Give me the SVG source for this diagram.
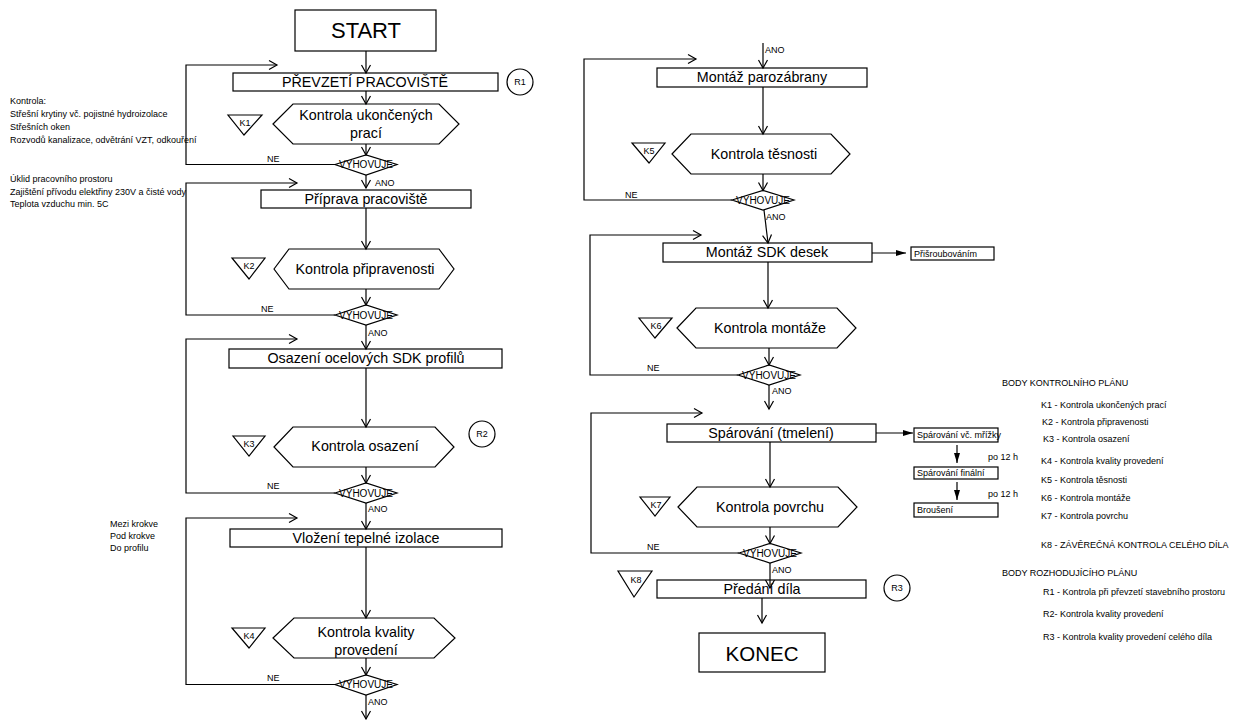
<svg xmlns="http://www.w3.org/2000/svg" width="1246" height="720" viewBox="0 0 1246 720">
  <style>
    text { font-family: "Liberation Sans", Arial, sans-serif; fill: #000; }
    .box { fill: #fff; stroke: #000; stroke-width: 1.2; }
    .ln { fill: none; stroke: #000; stroke-width: 1.2; }
    .lbl { font-size: 14.3px; text-anchor: middle; }
    .big { font-size: 22px; text-anchor: middle; }
    .dec { font-size: 10px; text-anchor: middle; }
    .sm { font-size: 9px; }
    .smc { font-size: 9px; text-anchor: middle; }
    .tiny { font-size: 9px; }
  </style>
  <defs>
    <marker id="open" markerUnits="userSpaceOnUse" markerWidth="12" markerHeight="12" viewBox="0 0 12 12" refX="10" refY="6" orient="auto">
      <path d="M2,1.5 L10,6 L2,10.5" fill="none" stroke="#000" stroke-width="1.2"/>
    </marker>
    <marker id="solid" markerUnits="userSpaceOnUse" markerWidth="12" markerHeight="8" viewBox="0 0 12 8" refX="11" refY="4" orient="auto">
      <path d="M1,1 L11,4 L1,7 z" fill="#000"/>
    </marker>
  </defs>
  <rect width="1246" height="720" fill="#fff"/>

  <!-- left column -->
  <g id="start"><rect class="box" x="295" y="10" width="141" height="41"/><text class="big" x="366" y="38">START</text></g>
  <g id="prevzeti"><rect class="box" x="233" y="73" width="265" height="18"/><text class="lbl" x="365" y="87">PŘEVZETÍ PRACOVIŠTĚ</text></g>
  <g id="r1"><circle class="box" cx="520" cy="82" r="13"/><text class="smc" x="520" y="85">R1</text></g>
  <g id="k1"><polygon class="box" points="273,124 293,104 439,104 459,124 439,144 293,144"/><text class="lbl" x="366" y="120">Kontrola ukončených</text><text class="lbl" x="366" y="138">prací</text></g>
  <g id="k1-mark"><polygon class="box" points="228,115 262,115 244,135"/><text class="smc" x="245" y="126">K1</text></g>
  <g id="d1"><polygon class="box" points="335,164.5 366,155 397,164.5 366,175"/><text class="dec" x="366" y="168">VYHOVUJE</text></g>

  <g id="priprava"><rect class="box" x="261" y="190" width="210" height="18"/><text class="lbl" x="366" y="204">Příprava pracoviště</text></g>
  <g id="k2"><polygon class="box" points="274,269 289,249 439,249 454,269 439,289 289,289"/><text class="lbl" x="365" y="274">Kontrola připravenosti</text></g>
  <g id="k2-mark"><polygon class="box" points="232,258 265,258 249,279"/><text class="smc" x="249" y="269">K2</text></g>
  <g id="d2"><polygon class="box" points="335,315 366,305 397,315 366,325"/><text class="dec" x="366" y="318.5">VYHOVUJE</text></g>

  <g id="osazeni"><rect class="box" x="229" y="349" width="273" height="19"/><text class="lbl" x="366" y="363">Osazení ocelových SDK profilů</text></g>
  <g id="k3"><polygon class="box" points="274,447 293,427 435,427 454,447 435,467 293,467"/><text class="lbl" x="365" y="451">Kontrola osazení</text></g>
  <g id="k3-mark"><polygon class="box" points="233,436 265,436 249,456"/><text class="smc" x="249" y="447">K3</text></g>
  <g id="r2"><circle class="box" cx="482" cy="434" r="13"/><text class="smc" x="482" y="437">R2</text></g>
  <g id="d3"><polygon class="box" points="335,493 366,483 397,493 366,503"/><text class="dec" x="366" y="496.5">VYHOVUJE</text></g>

  <g id="vlozeni"><rect class="box" x="230" y="529" width="272" height="18"/><text class="lbl" x="366" y="543">Vložení tepelné izolace</text></g>
  <g id="k4"><polygon class="box" points="273,638 294,618 434,618 455,638 434,658 294,658"/><text class="lbl" x="366" y="637">Kontrola kvality</text><text class="lbl" x="366" y="655">provedení</text></g>
  <g id="k4-mark"><polygon class="box" points="232,628 265,628 249,648"/><text class="smc" x="249" y="639">K4</text></g>
  <g id="d4"><polygon class="box" points="335,684.5 366,675 397,684.5 366,695"/><text class="dec" x="366" y="688">VYHOVUJE</text></g>

  <!-- right column -->
  <g id="montaz-paro"><rect class="box" x="657" y="68" width="210" height="19"/><text class="lbl" x="762" y="82">Montáž parozábrany</text></g>
  <g id="k5"><polygon class="box" points="672,154 691,134 831,134 850,154 831,174 691,174"/><text class="lbl" x="764" y="159">Kontrola těsnosti</text></g>
  <g id="k5-mark"><polygon class="box" points="632,143 665,143 649,163"/><text class="smc" x="649" y="154">K5</text></g>
  <g id="d5"><polygon class="box" points="732,200 763,190.5 794,200 763,210"/><text class="dec" x="763" y="203.5">VYHOVUJE</text></g>

  <g id="montaz-sdk"><rect class="box" x="663" y="243" width="209" height="19"/><text class="lbl" x="767" y="257">Montáž SDK desek</text></g>
  <g id="prisroubovanim"><rect class="box" x="911" y="247" width="83" height="13"/><text class="tiny" x="914" y="256.5">Přišroubováním</text></g>
  <g id="k6"><polygon class="box" points="677,328 696,308 837,308 856,328 837,348 696,348"/><text class="lbl" x="770" y="333">Kontrola montáže</text></g>
  <g id="k6-mark"><polygon class="box" points="639,318 672,318 655,338"/><text class="smc" x="656" y="329">K6</text></g>
  <g id="d6"><polygon class="box" points="738,375 769,365 800,375 769,385"/><text class="dec" x="769" y="378.5">VYHOVUJE</text></g>

  <g id="sparovani"><rect class="box" x="667" y="424" width="209" height="18"/><text class="lbl" x="771" y="438">Spárování (tmelení)</text></g>
  <g id="sparovani-mrizky"><rect class="box" x="914" y="428" width="84" height="14"/><text class="tiny" x="917" y="438">Spárování vč. mřížky</text></g>
  <g id="sparovani-finalni"><rect class="box" x="914" y="467" width="84" height="12"/><text class="tiny" x="917" y="476">Spárování finální</text></g>
  <g id="brouseni"><rect class="box" x="914" y="503" width="84" height="14"/><text class="tiny" x="917" y="513">Broušení</text></g>
  <g id="k7"><polygon class="box" points="678,507 697,487 838,487 857,507 838,527 697,527"/><text class="lbl" x="770" y="512">Kontrola povrchu</text></g>
  <g id="k7-mark"><polygon class="box" points="640,497 670,497 655,516"/><text class="smc" x="656" y="508">K7</text></g>
  <g id="d7"><polygon class="box" points="739,553 770,543.5 801,553 770,563"/><text class="dec" x="770" y="556.5">VYHOVUJE</text></g>

  <g id="predani"><rect class="box" x="657" y="580" width="209" height="18"/><text class="lbl" x="762" y="594">Předání díla</text></g>
  <g id="k8-mark"><polygon class="box" points="618,571 652,571 634,597"/><text class="smc" x="636" y="583">K8</text></g>
  <g id="r3"><circle class="box" cx="897" cy="588" r="13"/><text class="smc" x="897" y="591">R3</text></g>
  <g id="konec"><rect class="box" x="699" y="633" width="126" height="39"/><text class="big" x="762" y="661" style="font-size:20.5px">KONEC</text></g>

  <!-- connectors -->
  <g id="connectors" class="ln">
    <line x1="366" y1="51" x2="366" y2="73" marker-end="url(#open)"/>
    <line x1="366" y1="91" x2="366" y2="104" marker-end="url(#open)"/>
    <line x1="366" y1="144" x2="366" y2="155" marker-end="url(#open)"/>
    <line x1="366" y1="175" x2="366" y2="188" marker-end="url(#open)"/>
    <line x1="366" y1="208" x2="366" y2="249" marker-end="url(#open)"/>
    <line x1="366" y1="289" x2="366" y2="305" marker-end="url(#open)"/>
    <line x1="366" y1="325" x2="366" y2="349" marker-end="url(#open)"/>
    <line x1="366" y1="368" x2="366" y2="427" marker-end="url(#open)"/>
    <line x1="366" y1="467" x2="366" y2="483" marker-end="url(#open)"/>
    <line x1="366" y1="503" x2="366" y2="529" marker-end="url(#open)"/>
    <line x1="366" y1="547" x2="366" y2="618" marker-end="url(#open)"/>
    <line x1="366" y1="658" x2="366" y2="675" marker-end="url(#open)"/>
    <line x1="366" y1="695" x2="366" y2="719" marker-end="url(#open)"/>
    <polyline points="335,164.5 186,164.5 186,65 277,65" marker-end="url(#open)"/>
    <polyline points="335,315 186,315 186,183 297,183" marker-end="url(#open)"/>
    <polyline points="335,493 186,493 186,339 297,339" marker-end="url(#open)"/>
    <polyline points="335,684.5 186,684.5 186,518 297,518" marker-end="url(#open)"/>

    <line x1="763" y1="43" x2="763" y2="68" marker-end="url(#open)"/>
    <line x1="763" y1="87" x2="763" y2="134" marker-end="url(#open)"/>
    <line x1="763" y1="174" x2="763" y2="190.5" marker-end="url(#open)"/>
    <line x1="764" y1="210" x2="768" y2="243" marker-end="url(#open)"/>
    <line x1="768" y1="262" x2="768" y2="308" marker-end="url(#open)"/>
    <line x1="769" y1="348" x2="769" y2="365" marker-end="url(#open)"/>
    <line x1="769" y1="385" x2="769" y2="409" marker-end="url(#open)"/>
    <line x1="770" y1="442" x2="770" y2="487" marker-end="url(#open)"/>
    <line x1="770" y1="527" x2="770" y2="543.5" marker-end="url(#open)"/>
    <line x1="770" y1="563" x2="770" y2="588" marker-end="url(#open)"/>
    <line x1="762" y1="598" x2="762" y2="623" marker-end="url(#open)"/>
    <polyline points="732,200 584,200 584,59 696,59" marker-end="url(#open)"/>
    <polyline points="738,375 590,375 590,235 701,235" marker-end="url(#open)"/>
    <polyline points="739,553 591,553 591,413 702,413" marker-end="url(#open)"/>

    <line x1="872" y1="253" x2="906" y2="253" marker-end="url(#solid)"/>
    <line x1="876" y1="433" x2="913" y2="433" marker-end="url(#solid)"/>
    <line x1="957" y1="445" x2="957" y2="463" marker-end="url(#solid)"/>
    <line x1="957" y1="482" x2="957" y2="500" marker-end="url(#solid)"/>
  </g>

  <!-- branch labels -->
  <g id="labels" class="sm">
    <text x="267" y="162">NE</text>
    <text x="375" y="186">ANO</text>
    <text x="261" y="312">NE</text>
    <text x="368" y="336">ANO</text>
    <text x="267" y="489">NE</text>
    <text x="368" y="512">ANO</text>
    <text x="267" y="681">NE</text>
    <text x="368" y="705">ANO</text>
    <text x="765" y="53">ANO</text>
    <text x="625" y="198">NE</text>
    <text x="766" y="220">ANO</text>
    <text x="647" y="371">NE</text>
    <text x="772" y="394">ANO</text>
    <text x="647" y="550">NE</text>
    <text x="772" y="573">ANO</text>
    <text x="988" y="460">po 12 h</text>
    <text x="988" y="497">po 12 h</text>
  </g>

  <!-- notes -->
  <g id="notes" class="sm">
    <text x="10" y="104">Kontrola:</text>
    <text x="10" y="117">Střešní krytiny vč. pojistné hydroizolace</text>
    <text x="10" y="130">Střešních oken</text>
    <text x="10" y="143">Rozvodů kanalizace, odvětrání VZT, odkouření</text>
    <text x="10" y="182">Úklid pracovního prostoru</text>
    <text x="10" y="195">Zajištění přívodu elektřiny 230V a čisté vody</text>
    <text x="10" y="207">Teplota vzduchu min. 5C</text>
    <text x="110" y="527">Mezi krokve</text>
    <text x="110" y="539">Pod krokve</text>
    <text x="110" y="551">Do profilu</text>
  </g>

  <!-- legend -->
  <g id="legend" class="sm">
    <text x="1002" y="386">BODY KONTROLNÍHO PLÁNU</text>
    <text x="1041" y="408">K1 - Kontrola ukončených prací</text>
    <text x="1042" y="425">K2 - Kontrola připravenosti</text>
    <text x="1043" y="442">K3 - Kontrola osazení</text>
    <text x="1041" y="464">K4 - Kontrola kvality provedení</text>
    <text x="1041" y="483">K5 - Kontrola těsnosti</text>
    <text x="1041" y="501">K6 - Kontrola montáže</text>
    <text x="1041" y="519">K7 - Kontrola povrchu</text>
    <text x="1041" y="548">K8 - ZÁVĚREČNÁ KONTROLA CELÉHO DÍLA</text>
    <text x="1002" y="576">BODY ROZHODUJÍCÍHO PLÁNU</text>
    <text x="1043" y="595">R1 - Kontrola při převzetí stavebního prostoru</text>
    <text x="1043" y="617">R2- Kontrola kvality provedení</text>
    <text x="1043" y="640">R3 - Kontrola kvality provedení celého díla</text>
  </g>
</svg>
